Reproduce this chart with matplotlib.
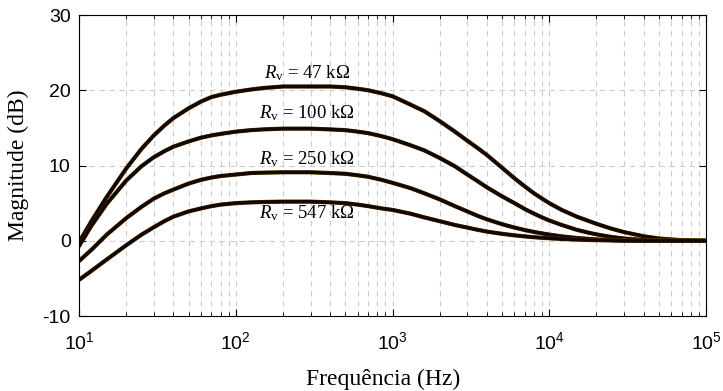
import matplotlib.pyplot as plt
import matplotlib.patheffects as pe
from matplotlib.ticker import LogLocator, NullLocator

# frequency points (Hz)
freq = [10, 12, 15, 20, 25, 30, 35, 40, 50, 60, 70, 80, 100, 125, 150, 200,
        300, 400, 500, 600, 700, 850, 1000, 1300, 1600, 2000, 2500, 3000,
        3500, 4000, 5000, 6000, 7000, 8000, 9000, 10000, 12000, 15000,
        18000, 20000, 25000, 30000, 40000, 50000, 70000, 100000]

# magnitude (dB) for each Rv
mag_47k = [-0.2, 2.6, 5.8, 9.6, 12.2, 14.0, 15.3, 16.3, 17.6, 18.5, 19.1, 19.4,
           19.8, 20.1, 20.3, 20.5, 20.5, 20.5, 20.4, 20.2, 20.0, 19.6, 19.2,
           18.1, 17.2, 15.9, 14.5, 13.3, 12.3, 11.4, 9.7, 8.3, 7.2, 6.3, 5.6,
           5.0, 4.1, 3.2, 2.6, 2.25, 1.6, 1.15, 0.6, 0.3, 0.08, 0.0]
mag_100k = [-0.7, 2.0, 4.9, 8.0, 9.9, 11.1, 11.9, 12.5, 13.2, 13.7, 14.0, 14.2,
            14.5, 14.7, 14.8, 14.9, 14.9, 14.8, 14.7, 14.5, 14.3, 13.9, 13.5,
            12.7, 12.0, 11.0, 9.9, 8.8, 7.9, 7.1, 5.9, 5.0, 4.2, 3.6, 3.1,
            2.7, 2.1, 1.45, 1.05, 0.85, 0.5, 0.3, 0.12, 0.05, 0.0, 0.0]
mag_250k = [-2.7, -1.2, 0.8, 3.0, 4.5, 5.6, 6.3, 6.8, 7.6, 8.1, 8.4, 8.6,
            8.8, 9.0, 9.05, 9.1, 9.1, 9.0, 8.9, 8.7, 8.5, 8.1, 7.7,
            7.0, 6.3, 5.5, 4.6, 3.9, 3.3, 2.85, 2.2, 1.75, 1.42, 1.17, 0.98,
            0.82, 0.58, 0.37, 0.24, 0.18, 0.1, 0.05, 0.0, 0.0, 0.0, 0.0]
mag_547k = [-5.2, -4.0, -2.5, -0.6, 0.8, 1.8, 2.6, 3.2, 3.9, 4.3, 4.6, 4.8,
            5.0, 5.1, 5.15, 5.2, 5.2, 5.1, 5.0, 4.8, 4.6, 4.3, 4.1,
            3.6, 3.1, 2.6, 2.1, 1.75, 1.45, 1.22, 0.92, 0.72, 0.58, 0.47, 0.39,
            0.33, 0.24, 0.15, 0.1, 0.08, 0.04, 0.0, 0.0, 0.0, 0.0, 0.0]

curves = [mag_47k, mag_100k, mag_250k, mag_547k]
labels = ['47', '100', '250', '547']
label_y = [22.3, 17.0, 10.8, 3.7]   # where the Rv text sits
label_f = 285

plt.rcParams['font.family'] = 'Liberation Sans'
plt.rcParams['axes.unicode_minus'] = False
plt.rcParams['mathtext.fontset'] = 'custom'
plt.rcParams['mathtext.rm'] = 'Liberation Serif'
plt.rcParams['mathtext.it'] = 'Liberation Serif:italic'

fig = plt.figure(figsize=(7.23, 3.91), dpi=100)
ax = fig.add_axes([0.1093, 0.1918, 0.8672, 0.7698])

for mag in curves:
    ax.semilogx(freq, mag, color='#120800', lw=2.4,
                path_effects=[pe.Stroke(linewidth=3.0, foreground='#5a3200'), pe.Normal()])

for lab, yy in zip(labels, label_y):
    ax.text(label_f, yy, r'$R_{\rm v}$ = ' + lab + ' k\u03a9', ha='center', va='center',
            fontsize=13.5, family='Liberation Serif')

ax.set_xlim(10, 1e5)
ax.set_ylim(-10, 30)
ax.set_yticks([-10, 0, 10, 20, 30])
ax.xaxis.set_major_locator(LogLocator(base=10, numticks=10))
ax.xaxis.set_minor_locator(LogLocator(base=10, subs=range(2, 10), numticks=20))
ax.yaxis.set_minor_locator(NullLocator())

ax.grid(True, which='major', linestyle=(0, (5, 4)), color='#cccccc', lw=0.8)
ax.grid(True, which='minor', axis='x', linestyle=(0, (5, 4)), color='#cccccc', lw=0.8)
ax.tick_params(which='both', direction='in', top=True, right=True, labelsize=14)
ax.tick_params(which='major', length=5)
ax.tick_params(which='minor', length=3)
ax.tick_params(axis='x', pad=11)
ax.tick_params(axis='y', pad=6)

ax.set_xlabel('Frequência (Hz)', family='Liberation Serif', fontsize=17,
              x=0.485, labelpad=11)
ax.set_ylabel('Magnitude (dB)', family='Liberation Serif', fontsize=17, labelpad=10)

fig.savefig('out.png', dpi=100)
